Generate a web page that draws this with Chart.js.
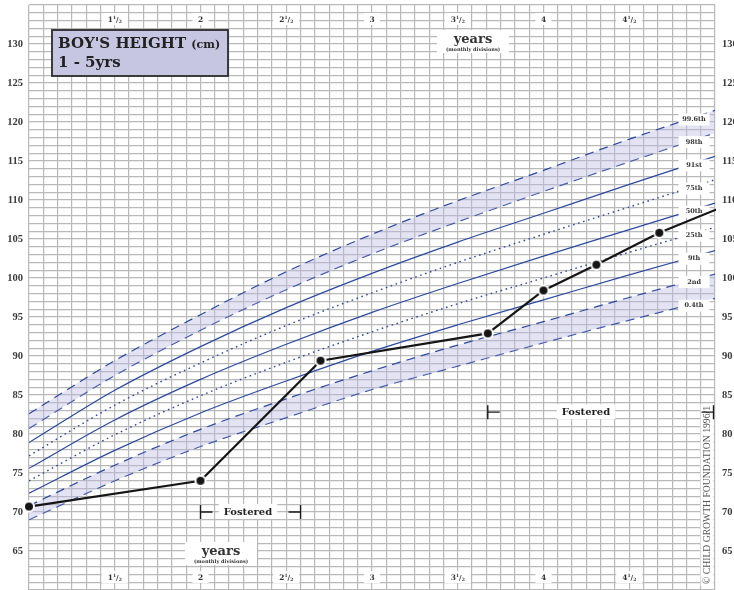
<!DOCTYPE html>
<html>
<head>
<meta charset="utf-8">
<script src="https://cdn.jsdelivr.net/npm/chart.js@4.4.0/dist/chart.umd.min.js"></script>
<style>
  html, body { margin: 0; padding: 0; background: #fff; }
  #wrap { width: 734px; height: 590px; }
</style>
</head>
<body>
<div id="wrap"><canvas id="myChart" width="734" height="590"></canvas></div>
<script>
const ageMonths = [12, 18, 24, 30, 36, 42, 48, 54, 60];

// centile curves, height in cm
const c996 = [82.6, 89.4, 95.3, 100.8, 105.6, 109.9, 113.8, 117.8, 121.5];
const c98  = [80.7, 87.5, 93.3, 98.5, 103.1, 107.2, 111.1, 114.9, 118.6];
const c91  = [78.9, 85.6, 91.2, 96.2, 100.6, 104.6, 108.3, 112.0, 115.6];
const c75  = [77.2, 83.7, 89.1, 93.9, 98.1, 102.0, 105.6, 109.1, 112.6];
const c50  = [75.6, 81.8, 87.0, 91.5, 95.6, 99.3, 102.8, 106.2, 109.6];
const c25  = [74.0, 79.9, 84.9, 89.2, 93.1, 96.7, 100.0, 103.3, 106.5];
const c9   = [72.4, 77.9, 82.7, 86.8, 90.6, 94.0, 97.2, 100.4, 103.5];
const c2   = [70.8, 76.0, 80.6, 84.5, 88.1, 91.4, 94.4, 97.5, 100.5];
const c04  = [69.0, 74.0, 78.4, 82.1, 85.7, 88.7, 91.7, 94.6, 97.4];

const centileNames = ['99.6th', '98th', '91st', '75th', '50th', '25th', '9th', '2nd', '0.4th'];
const lineKinds = ['dash', 'dash', 'solid', 'dot', 'solid', 'dot', 'solid', 'dash', 'dash'];

// the child's measurements
const patientAge = [12, 24, 32.4, 44.1, 48, 51.7, 56.1, 62.4];
const patientHeight = [70.7, 74.0, 89.4, 92.9, 98.4, 101.7, 105.8, 110.5];

// year labels along top and bottom
const yearTickMonths = [18, 24, 30, 36, 42, 48, 54];
const yearTickLabels = ['1½', '2', '2½', '3', '3½', '4', '4½'];

const serif = '"DejaVu Serif", serif';
const blue = '#2a49a3';
const gridColor = '#b9b9b9';
const bandColor = 'rgba(185, 185, 228, 0.4)';
const dashes = { dash: [9, 6], dot: [1.6, 3.6], solid: [] };

// dot with white halo so the line breaks around each measurement
const dot = document.createElement('canvas');
dot.width = 14; dot.height = 14;
const dctx = dot.getContext('2d');
dctx.fillStyle = '#fff';
dctx.beginPath(); dctx.arc(7, 7, 6, 0, Math.PI * 2); dctx.fill();
dctx.fillStyle = '#151515';
dctx.beginPath(); dctx.arc(7, 7, 4, 0, Math.PI * 2); dctx.fill();

const centiles = [c996, c98, c91, c75, c50, c25, c9, c2, c04];

const datasets = [{
  label: 'child',
  data: patientAge.map((a, i) => ({ x: a, y: patientHeight[i] })),
  borderColor: '#151515',
  borderWidth: 2.2,
  pointStyle: dot,
  pointRadius: 5,
  tension: 0,
  fill: false,
  clip: { left: 8, top: 0, right: 1, bottom: 0 }
}].concat(centiles.map((vals, i) => ({
  label: centileNames[i],
  data: ageMonths.map((a, j) => ({ x: a, y: vals[j] })),
  borderColor: blue,
  borderWidth: lineKinds[i] === 'dot' ? 1.4 : 1.2,
  borderDash: dashes[lineKinds[i]],
  pointRadius: 0,
  cubicInterpolationMode: 'monotone',
  fill: (i === 0 || i === 7) ? '+1' : false,
  backgroundColor: bandColor
})));

function drawYearLabel(ctx, label, cx, cy) {
  const half = label.endsWith('½');
  const whole = half ? label.slice(0, -1) : label;
  const bw = half ? 26 : 16;
  ctx.fillStyle = '#fff';
  ctx.fillRect(cx - bw / 2, cy - 6, bw, 12);
  ctx.fillStyle = '#333';
  ctx.textBaseline = 'alphabetic';
  if (!half) {
    ctx.font = 'bold 7.5px ' + serif;
    ctx.textAlign = 'center';
    ctx.fillText(whole, cx, cy + 3);
    return;
  }
  ctx.textAlign = 'left';
  ctx.font = 'bold 7.5px ' + serif;
  const w1 = ctx.measureText(whole).width;
  ctx.font = 'bold 4.5px ' + serif;
  const ws = ctx.measureText('1').width;
  ctx.font = 'bold 7px ' + serif;
  const wsl = ctx.measureText('/').width;
  let x = cx - (w1 + ws + wsl + ws) / 2;
  ctx.font = 'bold 7.5px ' + serif;
  ctx.fillText(whole, x, cy + 3); x += w1;
  ctx.font = 'bold 4.5px ' + serif;
  ctx.fillText('1', x, cy - 0.5); x += ws;
  ctx.font = 'bold 7px ' + serif;
  ctx.fillText('/', x, cy + 3); x += wsl;
  ctx.font = 'bold 4.5px ' + serif;
  ctx.fillText('2', x, cy + 3.5);
}

function drawYears(ctx, cx, top) {
  ctx.fillStyle = '#fff';
  ctx.fillRect(cx - 36, top, 72, 23);
  ctx.fillStyle = '#333';
  ctx.textAlign = 'center';
  ctx.textBaseline = 'alphabetic';
  ctx.font = 'bold 13px ' + serif;
  ctx.fillText('years', cx, top + 13);
  ctx.font = 'bold 5px ' + serif;
  ctx.fillText('(monthly divisions)', cx, top + 20.5);
}

function bracket(ctx, x, y, dir) {
  ctx.beginPath();
  ctx.moveTo(x, y - 7); ctx.lineTo(x, y + 7);
  ctx.moveTo(x, y); ctx.lineTo(x + dir * 12, y);
  ctx.stroke();
}

function fosteredText(ctx, cx, cy) {
  ctx.font = 'bold 10px ' + serif;
  const w = ctx.measureText('Fostered').width;
  ctx.fillStyle = '#fff';
  ctx.fillRect(cx - w / 2 - 5, cy - 8, w + 10, 15);
  ctx.fillStyle = '#222';
  ctx.textAlign = 'center';
  ctx.textBaseline = 'middle';
  ctx.fillText('Fostered', cx, cy);
}

const overlay = {
  id: 'overlay',
  afterDatasetDraw(chart, args) {
    // centile names go on after the last curve, before the child's line
    if (args.index !== 1) return;
    const { ctx } = chart;
    const xs = chart.scales.x, ys = chart.scales.y;
    const labelAge = 58.5;
    const cx = xs.getPixelForValue(labelAge);
    ctx.save();
    ctx.font = 'bold 6.5px ' + serif;
    ctx.textAlign = 'center';
    ctx.textBaseline = 'middle';
    centiles.forEach((vals, i) => {
      const n = vals.length;
      const v = vals[n - 2] + (vals[n - 1] - vals[n - 2]) * (labelAge - ageMonths[n - 2]) / (ageMonths[n - 1] - ageMonths[n - 2]);
      const cy = ys.getPixelForValue(v) + 2;
      ctx.fillStyle = '#fff';
      ctx.fillRect(cx - 15, cy - 6, 31, 12);
      ctx.fillStyle = '#333';
      ctx.fillText(centileNames[i], cx + 0.5, cy);
    });
    ctx.restore();
  },
  afterDatasetsDraw(chart) {
    const { ctx, chartArea } = chart;
    const xs = chart.scales.x, ys = chart.scales.y;
    ctx.save();

    yearTickMonths.forEach((m, i) => {
      const px = xs.getPixelForValue(m);
      drawYearLabel(ctx, yearTickLabels[i], px, 19);
      drawYearLabel(ctx, yearTickLabels[i], px, 577);
    });

    drawYears(ctx, 473, 30);
    drawYears(ctx, 221, 542);

    // title box
    ctx.fillStyle = '#c6c6e2';
    ctx.fillRect(52, 30, 176, 46);
    ctx.strokeStyle = '#2b2b2b';
    ctx.lineWidth = 1.8;
    ctx.strokeRect(52, 30, 176, 46);
    ctx.fillStyle = '#222';
    ctx.textAlign = 'left';
    ctx.textBaseline = 'alphabetic';
    ctx.font = 'bold 15px ' + serif;
    ctx.fillText("BOY'S HEIGHT", 58, 48);
    const tw = ctx.measureText("BOY'S HEIGHT ").width;
    ctx.font = 'bold 11px ' + serif;
    ctx.fillText('(cm)', 58 + tw, 48);
    ctx.font = 'bold 15px ' + serif;
    ctx.fillText('1 - 5yrs', 58, 67);

    // copyright, running up the right edge
    const txt = '\u00A9 CHILD GROWTH FOUNDATION 1996/1';
    ctx.save();
    ctx.translate(707, 584);
    ctx.rotate(-Math.PI / 2);
    ctx.font = '10.5px "Liberation Serif", serif';
    const cw = ctx.measureText(txt).width;
    const sx = 178 / cw;
    ctx.fillStyle = '#fff';
    ctx.fillRect(-2, -6.5, 182, 13);
    ctx.scale(sx, 1);
    ctx.fillStyle = '#555';
    ctx.textAlign = 'left';
    ctx.textBaseline = 'middle';
    ctx.fillText(txt, 0, 0.5);
    ctx.restore();

    // fostered periods
    ctx.strokeStyle = '#1a1a1a';
    ctx.lineWidth = 1.4;
    const fy1 = ys.getPixelForValue(70);
    bracket(ctx, xs.getPixelForValue(24), fy1, 1);
    bracket(ctx, xs.getPixelForValue(31), fy1, -1);
    fosteredText(ctx, 248, fy1);
    const fy2 = ys.getPixelForValue(82.8);
    bracket(ctx, xs.getPixelForValue(44.1), fy2, 1);
    bracket(ctx, chartArea.right - 1.5, fy2, -1);
    fosteredText(ctx, 586, fy2);

    ctx.restore();
  }
};

const tickFont = { family: '"Liberation Serif", serif', size: 10.5, weight: 'bold' };
const tickLabel = v => (v % 5 === 0 && v >= 65 && v <= 130) ? v : '';

new Chart(document.getElementById('myChart').getContext('2d'), {
  type: 'line',
  data: { datasets: datasets },
  options: {
    responsive: false,
    animation: false,
    layout: { autoPadding: false, padding: { top: 5, left: 0, right: 0, bottom: 0 } },
    plugins: { legend: { display: false }, tooltip: { enabled: false } },
    scales: {
      x: {
        type: 'linear', min: 12, max: 60,
        ticks: { stepSize: 1, display: false, autoSkip: false },
        grid: { color: gridColor, lineWidth: 1.2, drawTicks: false },
        border: { display: false },
        afterFit(s) { s.height = 0; s.paddingLeft = 0; s.paddingRight = 0; }
      },
      y: {
        position: 'left', min: 60, max: 135,
        ticks: { stepSize: 1, autoSkip: false, padding: 6, color: '#3a3a3a', font: tickFont, callback: tickLabel },
        grid: { color: gridColor, lineWidth: 1.2, drawTicks: false },
        border: { display: false },
        afterFit(s) { s.width = 29; s.paddingTop = 0; s.paddingBottom = 0; }
      },
      y2: {
        position: 'right', min: 60, max: 135,
        ticks: { stepSize: 1, autoSkip: false, padding: 7, color: '#3a3a3a', font: tickFont, callback: tickLabel },
        grid: { display: false, drawTicks: false },
        border: { display: false },
        afterFit(s) { s.width = 19; s.paddingTop = 0; s.paddingBottom = 0; }
      }
    }
  },
  plugins: [overlay]
});
</script>
</body>
</html>
